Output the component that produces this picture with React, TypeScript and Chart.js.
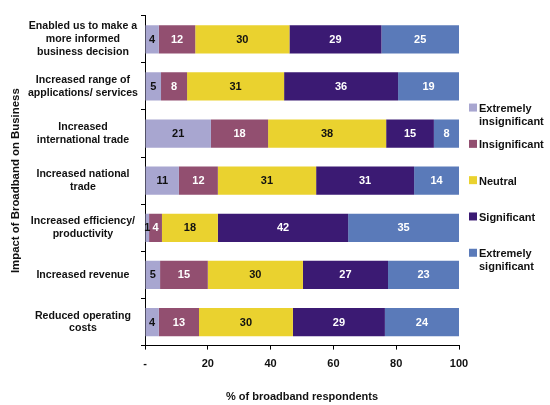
import React, { useEffect, useRef } from 'react';
import { Chart, registerables } from 'chart.js';

Chart.register(...registerables);

const categories: string[][] = [
  ['Enabled us to make a', 'more informed', 'business decision'],
  ['Increased range of', 'applications/ services'],
  ['Increased', 'international trade'],
  ['Increased national', 'trade'],
  ['Increased efficiency/', 'productivity'],
  ['Increased revenue'],
  ['Reduced operating', 'costs'],
];

const seriesNames: string[][] = [
  ['Extremely', 'insignificant'],
  ['Insignificant'],
  ['Neutral'],
  ['Significant'],
  ['Extremely', 'significant'],
];

const extremelyInsignificant = [4.4, 5.1, 21, 10.8, 1.3, 4.8, 4.4];
const insignificant = [11.6, 8.3, 18.2, 12.4, 4.1, 15.2, 12.8];
const neutral = [30, 30.9, 37.6, 31.3, 17.8, 30.3, 29.9];
const significant = [29.3, 36.3, 15.2, 31.2, 41.5, 27.1, 29.3];
const extremelySignificant = [24.7, 19.4, 8, 14.3, 35.3, 22.6, 23.6];

const xMin = 0;
const xMax = 100;
const xStep = 20;

const FONT = 'Arial, "Liberation Sans", sans-serif';
const colors = ['#A8A6D0', '#924F70', '#EAD22F', '#3B1A73', '#5A7AB9'];
const valueColors = ['#111111', '#FFFFFF', '#111111', '#FFFFFF', '#FFFFFF'];

const valueLabels = {
  id: 'valueLabels',
  afterDatasetsDraw(chart: any) {
    const ctx = chart.ctx;
    ctx.save();
    ctx.font = `bold 11px ${FONT}`;
    ctx.textAlign = 'center';
    ctx.textBaseline = 'middle';
    chart.data.datasets.forEach((ds: any, i: number) => {
      const meta = chart.getDatasetMeta(i);
      meta.data.forEach((el: any, j: number) => {
        const v = ds.data[j];
        const cx = (el.x + el.base) / 2;
        ctx.fillStyle = valueColors[i];
        ctx.fillText(String(Math.round(v)), cx, el.y + 0.5);
      });
    });
    ctx.restore();
  },
};

const sideLegend = {
  id: 'sideLegend',
  afterDraw(chart: any) {
    const { ctx, chartArea } = chart;
    const cy = (chartArea.top + chartArea.bottom) / 2 - 0.5;
    const step = 36.3;
    const x0 = chartArea.right + 10;
    ctx.save();
    ctx.font = `bold 11px ${FONT}`;
    ctx.textAlign = 'left';
    ctx.textBaseline = 'middle';
    seriesNames.forEach((lines, i) => {
      const y = cy + (i - 2) * step;
      ctx.fillStyle = colors[i];
      ctx.fillRect(x0, y - 4, 8, 8);
      ctx.fillStyle = '#111111';
      lines.forEach((t, k) => {
        ctx.fillText(t, x0 + 10, y + 1.5 + k * 12.5);
      });
    });
    ctx.restore();
  },
};

export default function App() {
  const ref = useRef<HTMLCanvasElement | null>(null);

  useEffect(() => {
    if (!ref.current) return;
    const series = [extremelyInsignificant, insignificant, neutral, significant, extremelySignificant];
    const chart = new Chart(ref.current, {
      type: 'bar',
      data: {
        labels: categories as any,
        datasets: series.map((d, i) => ({
          label: seriesNames[i].join(' '),
          data: d,
          backgroundColor: colors[i],
          borderWidth: 0,
          barPercentage: 0.6,
          categoryPercentage: 1,
        })),
      },
      options: {
        indexAxis: 'y',
        animation: false,
        responsive: false,
        maintainAspectRatio: false,
        layout: { padding: { top: 12, right: 91, bottom: 1, left: 0 } },
        plugins: {
          legend: { display: false },
          tooltip: { enabled: false },
        },
        scales: {
          x: {
            stacked: true,
            min: xMin,
            max: xMax,
            ticks: {
              stepSize: xStep,
              color: '#111111',
              font: { family: FONT, size: 11, weight: 'bold' },
              padding: 8,
              callback: (v: any) => (v === 0 ? '-' : String(v)),
            },
            grid: { drawOnChartArea: false, tickLength: 4, color: '#000000' },
            border: { color: '#000000' },
            title: {
              display: true,
              text: '% of broadband respondents',
              color: '#111111',
              font: { family: FONT, size: 11, weight: 'bold' },
              padding: { top: 12, bottom: 0 },
            },
          },
          y: {
            stacked: true,
            ticks: {
              color: '#111111',
              font: { family: FONT, size: 10.6, weight: 'bold', lineHeight: 1.2 },
              crossAlign: 'center',
              padding: 3,
              autoSkip: false,
            },
            grid: { drawOnChartArea: false, tickLength: 4, color: '#000000', offset: true },
            border: { color: '#000000' },
            title: {
              display: true,
              text: 'Impact of Broadband on Business',
              color: '#111111',
              font: { family: FONT, size: 11.4, weight: 'bold' },
              padding: { top: 9, bottom: 0 },
            },
            afterFit: (scale: any) => {
              scale.width = 145;
            },
          },
        },
      } as any,
      plugins: [valueLabels, sideLegend],
    });
    return () => chart.destroy();
  }, []);

  return (
    <div style={{ position: 'absolute', left: 0, top: 0, width: 550, height: 405, background: '#fff' }}>
      <canvas ref={ref} width={550} height={405} style={{ width: 550, height: 405 }} />
    </div>
  );
}
